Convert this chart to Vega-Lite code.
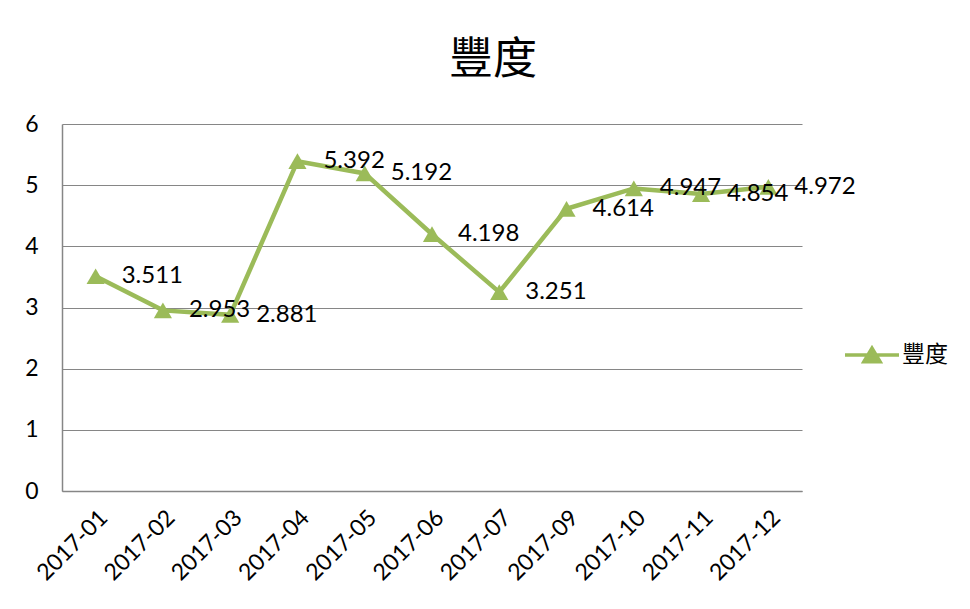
{
  "$schema": "https://vega.github.io/schema/vega-lite/v6.json",
  "autosize": {"type": "none"},
  "width": 740,
  "height": 367,
  "padding": {"left": 62, "top": 124, "right": 168, "bottom": 118},
  "background": "white",
  "title": {
    "text": "豐度",
    "font": "Noto Sans CJK TC",
    "fontSize": 44,
    "fontWeight": "normal",
    "color": "#000000",
    "anchor": "middle",
    "dx": 61,
    "offset": 30
  },
  "data": {
    "values": [
      {"month": "2017-01", "value": 3.511},
      {"month": "2017-02", "value": 2.953},
      {"month": "2017-03", "value": 2.881},
      {"month": "2017-04", "value": 5.392},
      {"month": "2017-05", "value": 5.192},
      {"month": "2017-06", "value": 4.198},
      {"month": "2017-07", "value": 3.251},
      {"month": "2017-09", "value": 4.614},
      {"month": "2017-10", "value": 4.947},
      {"month": "2017-11", "value": 4.854},
      {"month": "2017-12", "value": 4.972}
    ]
  },
  "encoding": {
    "x": {
      "field": "month",
      "type": "ordinal",
      "sort": null,
      "scale": {"type": "point", "padding": 0.5},
      "axis": {
        "title": null,
        "labelAngle": -45,
        "labelFont": "Lato",
        "labelFontSize": 23,
        "labelColor": "#000000",
        "labelPadding": 15,
        "ticks": false,
        "domainColor": "#868686",
        "domainWidth": 1.5,
        "grid": false
      }
    },
    "y": {
      "field": "value",
      "type": "quantitative",
      "scale": {"domain": [0, 6], "nice": false},
      "axis": {
        "title": null,
        "values": [0, 1, 2, 3, 4, 5, 6],
        "labelFont": "Lato",
        "labelFontSize": 23,
        "labelColor": "#000000",
        "labelPadding": 24,
        "ticks": false,
        "domainColor": "#868686",
        "domainWidth": 1.5,
        "gridColor": "#868686",
        "gridWidth": 1.2
      }
    }
  },
  "layer": [
    {
      "mark": {"type": "line", "color": "#9BBB59", "strokeWidth": 4.5}
    },
    {
      "mark": {"type": "point", "shape": "triangle-up", "filled": true, "size": 330, "opacity": 1},
      "encoding": {
        "color": {
          "datum": "豐度",
          "scale": {"range": ["#9BBB59"]},
          "legend": {
            "title": null,
            "orient": "none",
            "legendX": 794.5,
            "legendY": 215.5,
            "padding": 0,
            "symbolType": "M-2,0H2M-0.6,0.5L0,-0.5L0.6,0.5Z",
            "symbolSize": 729,
            "symbolStrokeColor": "#9BBB59",
            "symbolFillColor": "#9BBB59",
            "symbolStrokeWidth": 3.5,
            "symbolOpacity": 1,
            "labelOffset": 14.5,
            "labelFont": "Noto Sans CJK TC",
            "labelFontSize": 23,
            "labelColor": "#000000"
          }
        }
      }
    },
    {
      "mark": {"type": "text", "align": "left", "baseline": "middle", "dx": 26, "font": "Lato", "fontSize": 24, "color": "#000000"},
      "encoding": {
        "text": {"field": "value", "type": "quantitative", "format": ".3f"}
      }
    }
  ],
  "config": {
    "view": {"stroke": null}
  }
}
